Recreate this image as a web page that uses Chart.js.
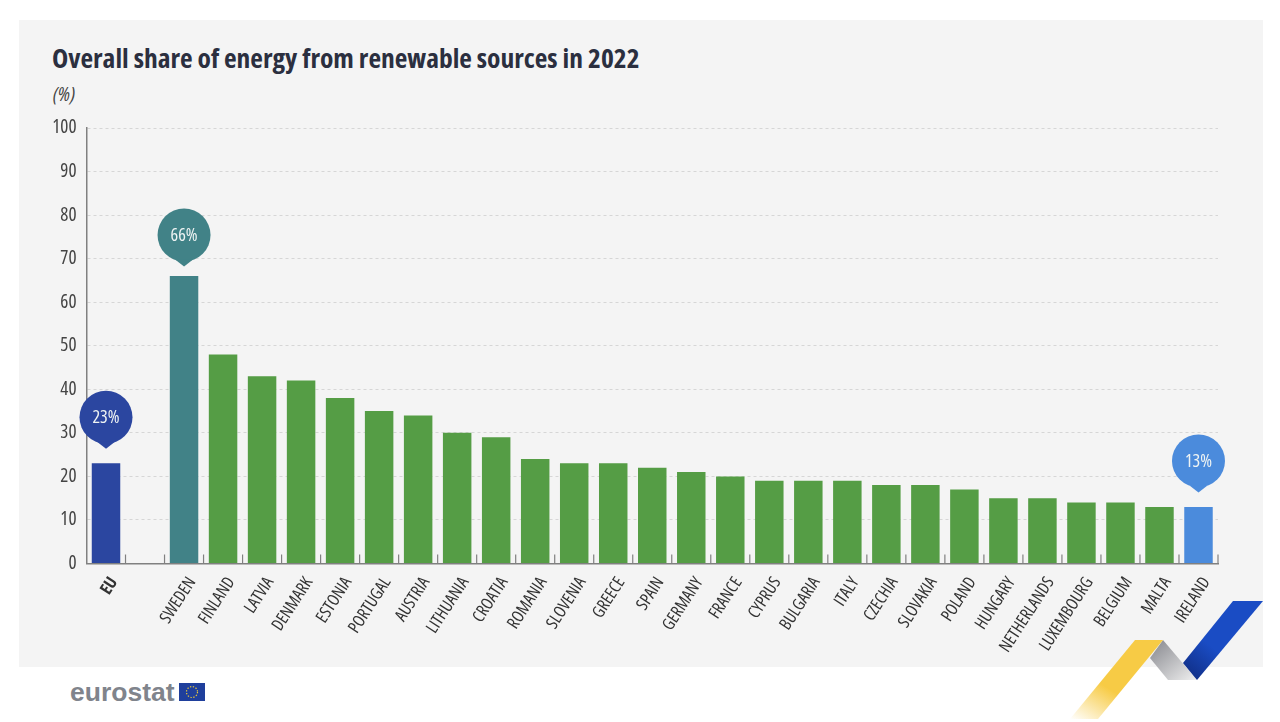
<!DOCTYPE html>
<html>
<head>
<meta charset="utf-8">
<title>Overall share of energy from renewable sources in 2022</title>
<script src="https://cdn.jsdelivr.net/npm/chart.js@4/dist/chart.umd.min.js"></script>
<style>
    html, body { margin: 0; padding: 0; background: #fff; }
    #page { position: relative; width: 1280px; height: 722px; overflow: hidden; font-family: "Open Sans", sans-serif; font-stretch: condensed; }
    #panel { position: absolute; left: 19px; top: 20px; width: 1244px; height: 647px; background: #f4f4f4; }
    #title { position: absolute; left: 52px; top: 39px; font-size: 27.5px; line-height: 38px; font-weight: 700; color: #2b2f3f; white-space: nowrap; }
    #unit { position: absolute; left: 53px; top: 82px; font-size: 20px; line-height: 24px; font-style: italic; color: #444; }
    #logo { position: absolute; left: 70px; top: 676px; font-family: "Liberation Sans", sans-serif; font-stretch: normal; font-size: 26.5px; line-height: 32px; font-weight: bold; color: #80848c; }
    #ribbon, #flag { position: absolute; left: 0; top: 0; }
    canvas { position: absolute; left: 0; top: 0; }
</style>
</head>
<body>
<div id="page">
    <div id="panel"></div>
    <svg id="ribbon" width="1280" height="722">
        <defs>
            <linearGradient id="gold" x1="0" y1="1" x2="0.55" y2="0.25">
                <stop offset="0" stop-color="#f7cb45" stop-opacity="0"/>
                <stop offset="0.6" stop-color="#f7cb45"/>
            </linearGradient>
            <linearGradient id="grey" x1="0" y1="0" x2="1" y2="1">
                <stop offset="0" stop-color="#85868c"/>
                <stop offset="1" stop-color="#f0f0f0"/>
            </linearGradient>
            <linearGradient id="blue" x1="0" y1="1" x2="0.6" y2="0.3">
                <stop offset="0" stop-color="#0f2a7c"/>
                <stop offset="0.6" stop-color="#1a4cc4"/>
            </linearGradient>
        </defs>
        <polygon points="1163,640 1197,680 1168,680 1150,658" fill="url(#grey)"/>
        <polygon points="1135,640 1163,640 1098,719 1070,719" fill="url(#gold)"/>
        <polygon points="1233,601 1263,601 1197,680 1183,663" fill="url(#blue)"/>
    </svg>
    <div id="title">Overall share of energy from renewable sources in 2022</div>
    <div id="unit">(%)</div>
    <div id="logo">eurostat</div>
    <svg id="flag" width="1280" height="722">
        <rect x="179" y="683" width="26" height="18" fill="#1f3f9c"/>
        <circle cx="192" cy="692" r="5.5" fill="none" stroke="#e8c83c" stroke-width="1.2" stroke-dasharray="1.3 1.6"/>
    </svg>
    <canvas id="chart" width="1280" height="722"></canvas>
</div>
<script>
    const categories = ['EU', '', 'SWEDEN', 'FINLAND', 'LATVIA', 'DENMARK', 'ESTONIA', 'PORTUGAL', 'AUSTRIA', 'LITHUANIA', 'CROATIA', 'ROMANIA', 'SLOVENIA', 'GREECE', 'SPAIN', 'GERMANY', 'FRANCE', 'CYPRUS', 'BULGARIA', 'ITALY', 'CZECHIA', 'SLOVAKIA', 'POLAND', 'HUNGARY', 'NETHERLANDS', 'LUXEMBOURG', 'BELGIUM', 'MALTA', 'IRELAND'];
    const shares = [23, null, 66, 48, 43, 42, 38, 35, 34, 30, 29, 24, 23, 23, 22, 21, 20, 19, 19, 19, 18, 18, 17, 15, 15, 14, 14, 13, 13];
    const yTicks = [0, 10, 20, 30, 40, 50, 60, 70, 80, 90, 100];

    const GREEN = '#559d45';
    const barColors = { EU: '#2b46a0', SWEDEN: '#418287', IRELAND: '#4b8bdc' };
    const FONT = '"Open Sans", sans-serif';

    // The three highlighted bars get a speech bubble; dy is how far the centre sits above the bar.
    const bubbles = [
        { name: 'EU', dy: 46 },
        { name: 'SWEDEN', dy: 41 },
        { name: 'IRELAND', dy: 46 },
    ];

    // Small upward ticks on the x axis, drawn between the categories.
    const axisTicks = {
        id: 'axisTicks',
        beforeDatasetsDraw(chart) {
            const { ctx, scales: { x, y } } = chart;
            const base = y.getPixelForValue(0);
            const step = x.width / categories.length;
            ctx.save();
            ctx.strokeStyle = '#808080';
            ctx.lineWidth = 1.2;
            for (let i = 1; i <= categories.length; i++) {
                const px = x.left + step * i;
                ctx.beginPath();
                ctx.moveTo(px, base);
                ctx.lineTo(px, base - 9);
                ctx.stroke();
            }
            ctx.restore();
        },
    };

    const valueBubbles = {
        id: 'valueBubbles',
        afterDatasetsDraw(chart) {
            const { ctx, scales: { x, y } } = chart;
            const r = 26.5;
            bubbles.forEach(b => {
                const i = categories.indexOf(b.name);
                const cx = x.getPixelForValue(i);
                const top = y.getPixelForValue(shares[i]);
                const cy = top - b.dy;
                ctx.save();
                ctx.fillStyle = barColors[b.name];
                ctx.beginPath();
                ctx.arc(cx, cy, r, 0, Math.PI * 2);
                ctx.fill();
                ctx.beginPath();
                ctx.moveTo(cx - 9, cy + r - 2);
                ctx.lineTo(cx, cy + r + 5);
                ctx.lineTo(cx + 9, cy + r - 2);
                ctx.closePath();
                ctx.fill();
                ctx.fillStyle = '#eef3f3';
                ctx.font = `condensed 18px ${FONT}`;
                ctx.textAlign = 'center';
                ctx.textBaseline = 'middle';
                ctx.fillText(`${shares[i]}%`, cx, cy + 1);
                ctx.restore();
            });
        },
    };

    document.fonts.load('condensed 17px "Open Sans"').finally(() => {
        new Chart(document.getElementById('chart').getContext('2d'), {
            type: 'bar',
            data: {
                labels: categories,
                datasets: [{
                    data: shares,
                    backgroundColor: categories.map(c => barColors[c] || GREEN),
                    categoryPercentage: 1,
                    barPercentage: 0.73,
                }],
            },
            options: {
                responsive: false,
                animation: false,
                layout: { padding: { top: 128, right: 62, left: 0, bottom: 0 } },
                plugins: { legend: { display: false }, tooltip: { enabled: false } },
                scales: {
                    x: {
                        afterFit: scale => { scale.height = 158.5; },
                        grid: { display: false },
                        border: { color: '#808080', width: 1.5 },
                        ticks: {
                            autoSkip: false,
                            minRotation: 57,
                            maxRotation: 57,
                            padding: 2,
                            labelOffset: 8,
                            color: '#333',
                            // Chart.js only validates font.style, so the stretch keyword goes in with the weight
                            font: ctx => ({ family: FONT, size: 17, weight: categories[ctx.index] === 'EU' ? 'bold condensed' : 'condensed' }),
                        },
                    },
                    y: {
                        min: 0,
                        max: 100,
                        afterFit: scale => { scale.width = 86.5; },
                        afterBuildTicks: scale => { scale.ticks = yTicks.map(value => ({ value })); },
                        grid: { color: ctx => ctx.tick.value === 0 ? 'transparent' : '#d6d6d6', tickLength: 0 },
                        border: { color: '#808080', width: 1.5, dash: [3, 3] },
                        ticks: { padding: 10, color: '#444', font: { family: FONT, weight: 'condensed', size: 19 } },
                    },
                },
            },
            plugins: [axisTicks, valueBubbles],
        });
    });
</script>
</body>
</html>
